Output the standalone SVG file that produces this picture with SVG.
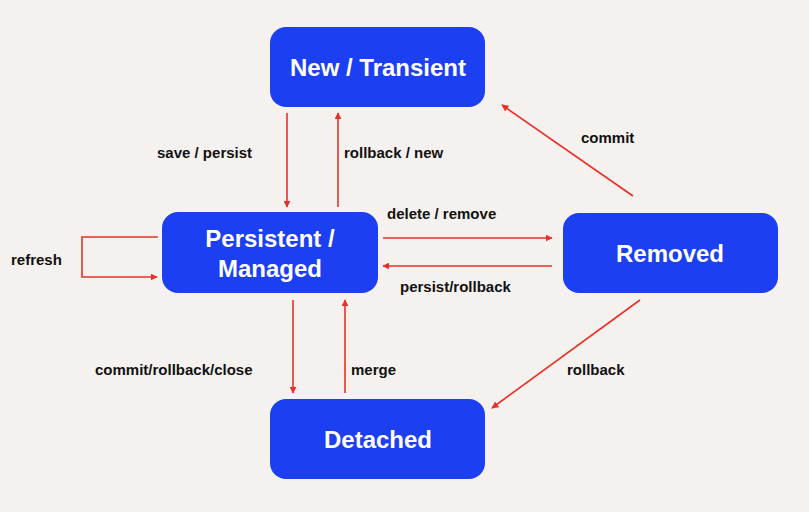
<svg xmlns="http://www.w3.org/2000/svg" width="809" height="512" viewBox="0 0 809 512">
<defs>
<marker id="ah" viewBox="0 0 10 10" refX="9" refY="5" markerWidth="7" markerHeight="7" orient="auto-start-reverse" markerUnits="userSpaceOnUse"><path d="M0,0 L10,5 L0,10 z" fill="#e8302a"/></marker>
<style>
.n{fill:#1c3ff2}
.nt{fill:#fff;font-family:"Liberation Sans",Arial,sans-serif;font-weight:bold;font-size:24px;text-anchor:middle}
.c{stroke:#e8302a;stroke-width:1.6;fill:none;marker-end:url(#ah)}
.l{fill:#111;font-family:"Liberation Sans",Arial,sans-serif;font-weight:bold;font-size:15px}
</style>
</defs>
<rect width="809" height="512" fill="#f5f1ef"/>
<g id="new"><rect class="n" x="270" y="27" width="215" height="80" rx="16"/><text class="nt" x="378" y="76">New / Transient</text></g>
<g id="persistent"><rect class="n" x="162" y="212" width="216" height="81" rx="16"/><text class="nt" x="270" y="247">Persistent /</text><text class="nt" x="270" y="277">Managed</text></g>
<g id="removed"><rect class="n" x="563" y="213" width="215" height="80" rx="16"/><text class="nt" x="670" y="262">Removed</text></g>
<g id="detached"><rect class="n" x="270" y="399" width="215" height="80" rx="16"/><text class="nt" x="378" y="448">Detached</text></g>
<g id="connectors">
<path class="c" d="M287,113 V207"/>
<path class="c" d="M338,207 V113"/>
<path class="c" d="M383,238 H552"/>
<path class="c" d="M552,266 H383"/>
<path class="c" d="M633,196 L502,105"/>
<path class="c" d="M640,300 L492,408"/>
<path class="c" d="M293,300 V393"/>
<path class="c" d="M345,393 V300"/>
<path class="c" d="M158,237 H82 V277 H157"/>
<text class="l" x="157" y="158">save / persist</text>
<text class="l" x="344" y="158">rollback / new</text>
<text class="l" x="387" y="219">delete / remove</text>
<text class="l" x="400" y="292">persist/rollback</text>
<text class="l" x="581" y="143">commit</text>
<text class="l" x="567" y="375">rollback</text>
<text class="l" x="95" y="375">commit/rollback/close</text>
<text class="l" x="351" y="375">merge</text>
<text class="l" x="11" y="265">refresh</text>
</g>
</svg>
